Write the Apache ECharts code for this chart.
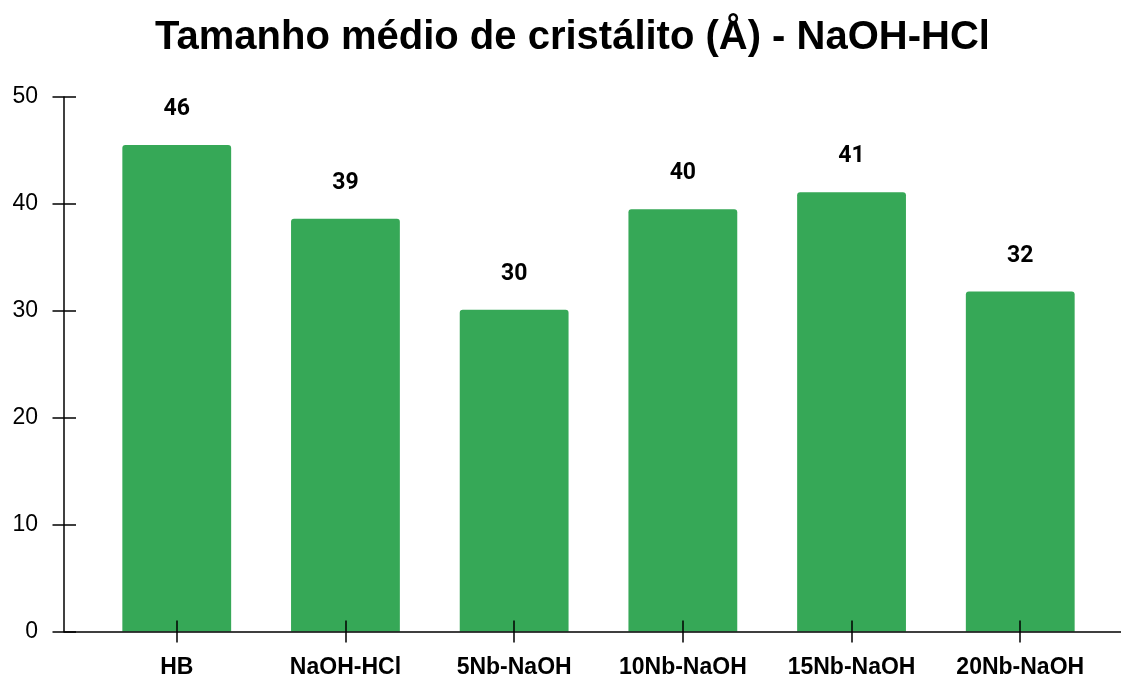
<!DOCTYPE html>
<html>
<head>
<meta charset="utf-8">
<script src="https://cdn.jsdelivr.net/npm/echarts@6/dist/echarts.min.js"></script>
<style>
  html, body { margin: 0; padding: 0; background: #fff; }
  #main { width: 1121px; height: 680px; }
</style>
</head>
<body>
<div id="main"></div>
<script>
// dados
var amostras = ['HB', 'NaOH-HCl', '5Nb-NaOH', '10Nb-NaOH', '15Nb-NaOH', '20Nb-NaOH'];
var tamanhoMedio = [45.5, 38.6, 30.1, 39.5, 41.1, 31.8];
var eixoY = { min: 0, max: 50, interval: 10 };

var verde = '#36a857';
var chart = echarts.init(document.getElementById('main'));

var option = {
  backgroundColor: '#fff',
  animation: false,
  title: {
    text: 'Tamanho médio de cristálito (Å) - NaOH-HCl',
    left: 150,
    top: 13,
    textStyle: { fontFamily: 'Liberation Sans', fontWeight: 'bold', fontSize: 40, color: '#000' }
  },
  grid: [
    // eixo Y e linha do eixo X
    { left: 64, right: 0, top: 97, bottom: 48.5 },
    // barras
    { left: 92.4, right: 16.4, top: 97, bottom: 48.5 }
  ],
  xAxis: [
    {
      gridIndex: 0, type: 'value', min: 0, max: 1, z: 10,
      axisLine: { show: true, lineStyle: { color: '#000', width: 1.5 } },
      axisTick: { show: false }, axisLabel: { show: false }, splitLine: { show: false }
    },
    {
      gridIndex: 1, type: 'category', data: amostras, position: 'bottom', z: 10,
      axisLine: { show: false },
      axisTick: { show: true, alignWithLabel: true, length: 11, lineStyle: { color: '#000', width: 1.5 } },
      axisLabel: { margin: 25, fontFamily: 'Liberation Sans', fontWeight: 'bold', fontSize: 23, color: '#000' }
    },
    {
      gridIndex: 1, type: 'category', data: amostras, position: 'bottom', z: 10,
      axisLine: { show: false },
      axisTick: { show: true, inside: true, alignWithLabel: true, length: 11, lineStyle: { color: '#000', width: 1.5 } },
      axisLabel: { show: false }
    }
  ],
  yAxis: [
    {
      gridIndex: 0, type: 'value', position: 'left', min: eixoY.min, max: eixoY.max, interval: eixoY.interval, z: 10,
      axisLine: { show: true, lineStyle: { color: '#000', width: 1.5 } },
      axisTick: { show: true, length: 11.5, lineStyle: { color: '#000', width: 1.5 } },
      axisLabel: { margin: 26, fontFamily: 'Liberation Sans', fontSize: 23, color: '#000' },
      splitLine: { show: false }
    },
    {
      gridIndex: 0, type: 'value', position: 'left', min: eixoY.min, max: eixoY.max, interval: eixoY.interval, z: 10,
      axisLine: { show: false },
      axisTick: { show: true, inside: true, length: 12, lineStyle: { color: '#000', width: 1.5 } },
      axisLabel: { show: false }, splitLine: { show: false }
    },
    {
      gridIndex: 1, type: 'value', min: eixoY.min, max: eixoY.max, show: false
    }
  ],
  series: [
    {
      type: 'bar',
      xAxisIndex: 1,
      yAxisIndex: 2,
      data: tamanhoMedio,
      barWidth: '64.5%',
      itemStyle: { color: verde, borderRadius: [3, 3, 0, 0] },
      label: {
        show: true,
        position: 'top',
        distance: 24,
        fontFamily: 'Roboto',
        fontWeight: 'bold',
        fontSize: 23,
        color: '#000',
        formatter: function (p) { return Math.round(p.value); }
      }
    }
  ]
};

chart.setOption(option);
</script>
</body>
</html>
